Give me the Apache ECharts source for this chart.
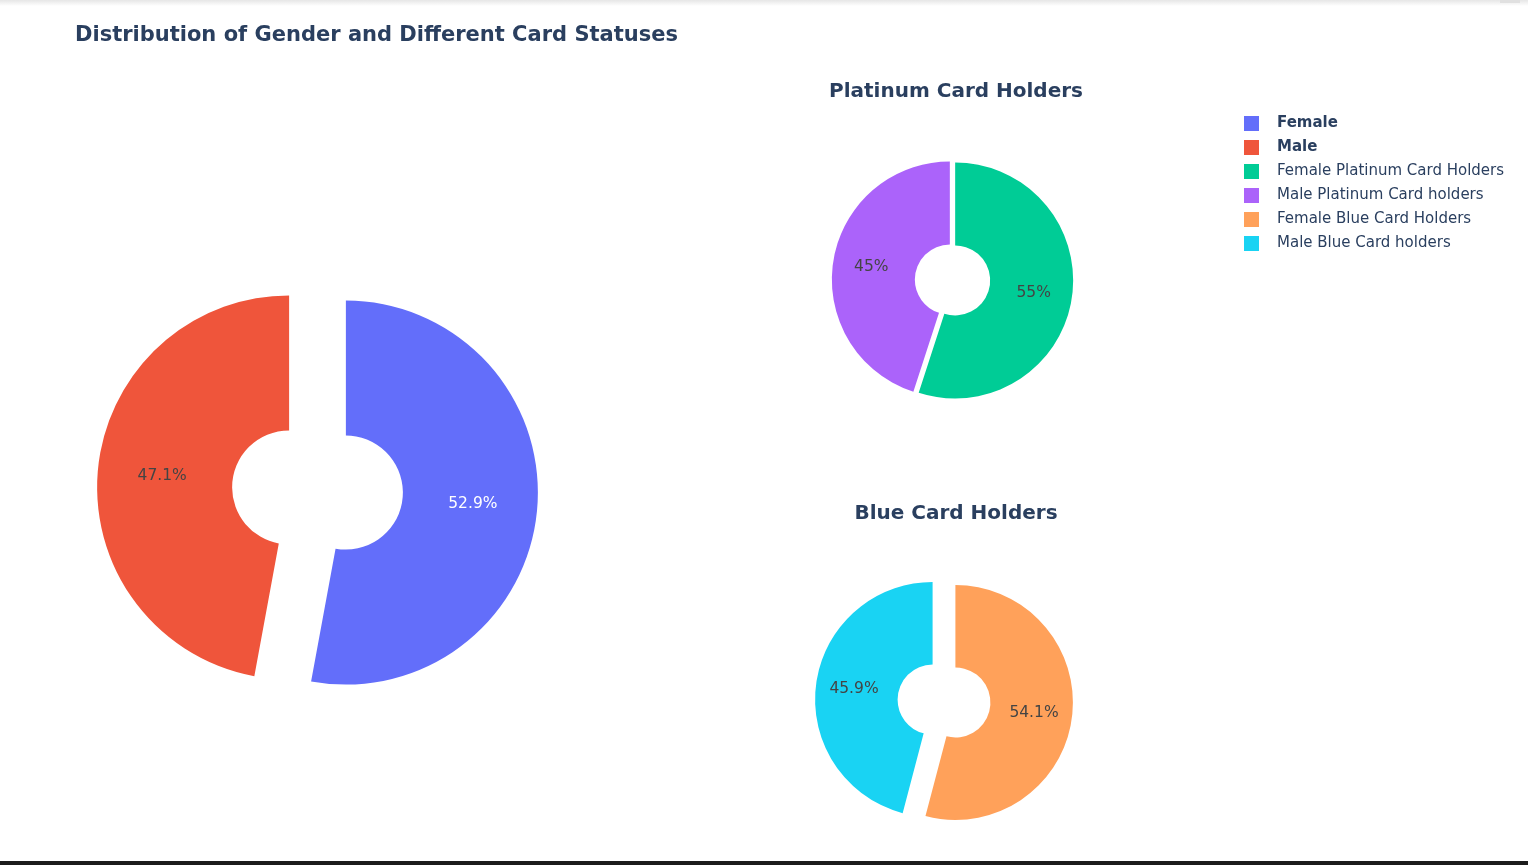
<!DOCTYPE html>
<html>
<head>
<meta charset="utf-8">
<script src="https://cdn.jsdelivr.net/npm/echarts@6/dist/echarts.min.js"></script>
<style>html,body{margin:0;padding:0;background:#fff}#c{width:1528px;height:865px}</style>
</head>
<body>
<div id="c"></div>
<script>
const genderNames = ['Female', 'Male'];
const genderValues = [52.9, 47.1];
const platinumNames = ['Female Platinum Card Holders', 'Male Platinum Card holders'];
const platinumValues = [55, 45];
const blueNames = ['Female Blue Card Holders', 'Male Blue Card holders'];
const blueValues = [54.1, 45.9];
const genderColors = ['#636efa', '#EF553B'];
const platinumColors = ['#00cc96', '#ab63fa'];
const blueColors = ['#FFA15A', '#19d3f3'];

const FONT = '"DejaVu Sans", Verdana, sans-serif';
const TXT = '#2a3f5f';

function mkData(names, values, colors, labelColors) {
  return names.map((n, i) => ({
    name: n, value: values[i], selected: true,
    itemStyle: { color: colors[i], borderWidth: 0 },
    label: { color: labelColors[i] }
  }));
}
function pieSeries(names, values, colors, labelColors, center, radius, offset) {
  return {
    type: 'pie', center: center, radius: radius,
    startAngle: 90, clockwise: true,
    selectedMode: 'multiple', selectedOffset: offset,
    avoidLabelOverlap: false,
    label: { show: true, position: 'inside', formatter: '{d}%', fontFamily: FONT, fontSize: 15.5 },
    labelLine: { show: false },
    emphasis: { scale: false },
    select: { itemStyle: { borderWidth: 0 } },
    data: mkData(names, values, colors, labelColors)
  };
}

const chart = echarts.init(document.getElementById('c'), null, { renderer: 'canvas' });
chart.setOption({
  animation: false,
  backgroundColor: '#fff',
  title: [
    { text: 'Distribution of Gender and Different Card Statuses', left: 75, top: 25, padding: 0,
      textStyle: { fontFamily: FONT, fontSize: 21, fontWeight: 'bold', color: TXT, lineHeight: 22 } },
    { text: 'Platinum Card Holders', left: 956, top: 81, padding: 0, textAlign: 'center',
      textStyle: { fontFamily: FONT, fontSize: 20, fontWeight: 'bold', color: TXT, lineHeight: 22 } },
    { text: 'Blue Card Holders', left: 956, top: 503, padding: 0, textAlign: 'center',
      textStyle: { fontFamily: FONT, fontSize: 20, fontWeight: 'bold', color: TXT, lineHeight: 22 } }
  ],
  legend: {
    orient: 'vertical', left: 1244, top: 116, padding: 0,
    itemWidth: 15, itemHeight: 15, itemGap: 9, icon: 'rect',
    data: genderNames.concat(platinumNames, blueNames),
    formatter: function (name) { return genderNames.indexOf(name) >= 0 ? '{b|' + name + '}' : '{n|' + name + '}'; },
    textStyle: {
      fontFamily: FONT, fontSize: 15, color: TXT, lineHeight: 15,
      rich: {
        b: { fontFamily: FONT, fontSize: 15, fontWeight: 'bold', color: TXT, lineHeight: 15, padding: [0, 0, 0, 13] },
        n: { fontFamily: FONT, fontSize: 15, color: TXT, lineHeight: 15, padding: [0, 0, 0, 13] }
      }
    }
  },
  graphic: [
    { type: 'rect', shape: { x: 0, y: 0, width: 1528, height: 6 },
      style: { fill: new echarts.graphic.LinearGradient(0, 0, 0, 1, [{ offset: 0, color: '#e6e6e6' }, { offset: 1, color: '#ffffff' }]) }, silent: true },
    { type: 'rect', shape: { x: 1500, y: 0, width: 20, height: 3 }, style: { fill: '#e0e0e0' }, silent: true },
    { type: 'rect', shape: { x: 0, y: 861, width: 1528, height: 4 }, style: { fill: '#1c1c1c' }, silent: true }
  ],
  series: [
    pieSeries(genderNames, genderValues, genderColors, ['#ffffff', '#444444'], [317.5, 490], [57, 192], 28.5),
    pieSeries(platinumNames, platinumValues, platinumColors, ['#444444', '#444444'], [952.5, 280], [35, 118], 2.7),
    pieSeries(blueNames, blueValues, blueColors, ['#444444', '#444444'], [944, 701], [35, 117.5], 11.5)
  ]
});
</script>
</body>
</html>
